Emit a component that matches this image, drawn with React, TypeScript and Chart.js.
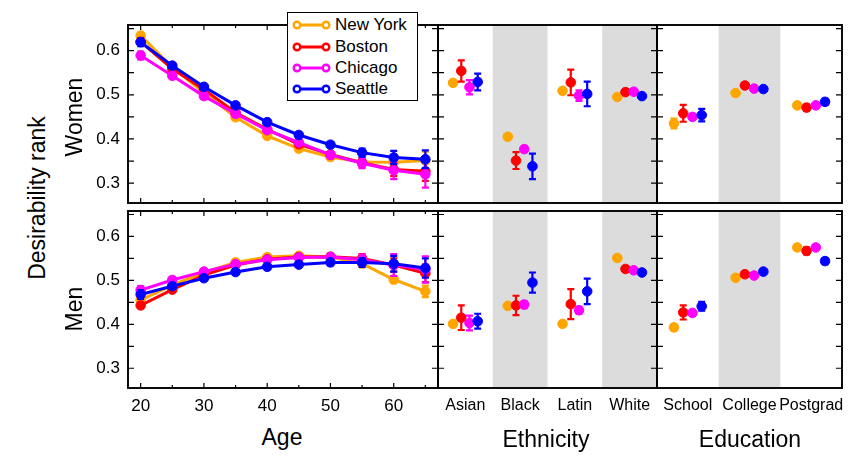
import React, { useEffect, useRef } from 'react'
import Chart from 'chart.js/auto'

Chart.defaults.font.family = '"Liberation Sans", Arial, Helvetica, sans-serif'
Chart.defaults.color = '#000'

const cities = ['New York', 'Boston', 'Chicago', 'Seattle']
const ages = [20, 25, 30, 35, 40, 45, 50, 55, 60, 65]
const ageLabelTicks = [20, 30, 40, 50, 60]
const ageMinorTicks = [25, 35, 45, 55, 65]
const ethnicities = ['Asian', 'Black', 'Latin', 'White']
const educations = ['School', 'College', 'Postgrad']
const rankTicks = [0.3, 0.4, 0.5, 0.6]
const rankMinorTicks = [0.3, 0.35, 0.4, 0.45, 0.5, 0.55, 0.6, 0.65]

// women by age
const nyWomenAge = [0.634, 0.562, 0.505, 0.449, 0.407, 0.378, 0.359, 0.348, 0.347, 0.351]
const bosWomenAge = [0.62, 0.559, 0.512, 0.46, 0.422, 0.388, 0.365, 0.346, 0.331, 0.327]
const chiWomenAge = [0.589, 0.543, 0.497, 0.457, 0.42, 0.392, 0.364, 0.345, 0.329, 0.32]
const seaWomenAge = [0.619, 0.566, 0.518, 0.476, 0.438, 0.409, 0.387, 0.369, 0.358, 0.354]
const nyWomenAgeErr = [0.007, 0.005, 0.004, 0.004, 0.005, 0.006, 0.007, 0.009, 0.012, 0.02]
const bosWomenAgeErr = [0.008, 0.005, 0.005, 0.005, 0.005, 0.006, 0.007, 0.01, 0.015, 0.022]
const chiWomenAgeErr = [0.009, 0.006, 0.005, 0.005, 0.005, 0.006, 0.008, 0.011, 0.02, 0.03]
const seaWomenAgeErr = [0.009, 0.005, 0.004, 0.004, 0.005, 0.005, 0.006, 0.009, 0.015, 0.02]

// men by age
const nyMenAge = [0.455, 0.489, 0.518, 0.541, 0.553, 0.556, 0.553, 0.538, 0.502, 0.475]
const bosMenAge = [0.443, 0.479, 0.512, 0.535, 0.548, 0.553, 0.554, 0.55, 0.535, 0.516]
const chiMenAge = [0.478, 0.501, 0.52, 0.537, 0.547, 0.552, 0.553, 0.547, 0.535, 0.525]
const seaMenAge = [0.468, 0.487, 0.505, 0.519, 0.531, 0.536, 0.541, 0.541, 0.538, 0.528]
const nyMenAgeErr = [0.006, 0.005, 0.004, 0.004, 0.004, 0.005, 0.006, 0.008, 0.008, 0.013]
const bosMenAgeErr = [0.006, 0.005, 0.004, 0.004, 0.004, 0.005, 0.006, 0.01, 0.015, 0.02]
const chiMenAgeErr = [0.009, 0.006, 0.005, 0.004, 0.005, 0.006, 0.008, 0.012, 0.025, 0.03]
const seaMenAgeErr = [0.01, 0.006, 0.005, 0.004, 0.004, 0.005, 0.007, 0.01, 0.018, 0.022]

// ethnicity
const nyWomenEth = [0.527, 0.405, 0.509, 0.495]
const bosWomenEth = [0.554, 0.351, 0.528, 0.506]
const chiWomenEth = [0.517, 0.377, 0.498, 0.507]
const seaWomenEth = [0.529, 0.338, 0.502, 0.497]
const nyWomenEthErr = [0.004, 0.004, 0.004, 0.003]
const bosWomenEthErr = [0.024, 0.019, 0.029, 0.004]
const chiWomenEthErr = [0.016, 0.006, 0.012, 0.003]
const seaWomenEthErr = [0.019, 0.029, 0.028, 0.004]

const nyMenEth = [0.401, 0.442, 0.401, 0.551]
const bosMenEth = [0.415, 0.443, 0.446, 0.526]
const chiMenEth = [0.403, 0.445, 0.432, 0.523]
const seaMenEth = [0.407, 0.495, 0.475, 0.518]
const nyMenEthErr = [0.004, 0.004, 0.004, 0.004]
const bosMenEthErr = [0.028, 0.022, 0.034, 0.006]
const chiMenEthErr = [0.017, 0.008, 0.008, 0.004]
const seaMenEthErr = [0.017, 0.023, 0.029, 0.005]

// education
const nyWomenEdu = [0.435, 0.504, 0.476]
const bosWomenEdu = [0.458, 0.521, 0.471]
const chiWomenEdu = [0.45, 0.514, 0.476]
const seaWomenEdu = [0.454, 0.513, 0.484]
const nyWomenEduErr = [0.011, 0.004, 0.004]
const bosWomenEduErr = [0.019, 0.005, 0.007]
const chiWomenEduErr = [0.006, 0.004, 0.003]
const seaWomenEduErr = [0.014, 0.004, 0.007]

const nyMenEdu = [0.393, 0.506, 0.575]
const bosMenEdu = [0.427, 0.514, 0.567]
const chiMenEdu = [0.426, 0.511, 0.575]
const seaMenEdu = [0.441, 0.52, 0.544]
const nyMenEduErr = [0.007, 0.004, 0.004]
const bosMenEduErr = [0.016, 0.005, 0.008]
const chiMenEduErr = [0.006, 0.004, 0.004]
const seaMenEduErr = [0.01, 0.004, 0.007]

const colors = ['#ffa500', '#ff0000', '#ff00ff', '#0000ff']
const dodge = [-0.225, -0.075, 0.075, 0.225]
const Y_MIN = 0.255
const Y_MAX = 0.658
const FONT = '"Liberation Sans", Arial, Helvetica, sans-serif'

// error bars drawn right before each dataset, so points sit on top
const errorBars = {
    id: 'errorBars',
    beforeDatasetDraw(chart: any, args: any) {
        const ds = chart.data.datasets[args.index]
        if (!ds.errs) return
        const y = chart.scales.y
        const ctx = chart.ctx
        ctx.save()
        ctx.strokeStyle = ds.borderColor
        ctx.lineWidth = 2.2
        args.meta.data.forEach((pt: any, i: number) => {
            const v = ds.data[i].y
            const e = ds.errs[i]
            const t = y.getPixelForValue(v + e)
            const b = y.getPixelForValue(v - e)
            ctx.beginPath()
            ctx.moveTo(pt.x, t)
            ctx.lineTo(pt.x, b)
            ctx.moveTo(pt.x - 3.5, t)
            ctx.lineTo(pt.x + 3.5, t)
            ctx.moveTo(pt.x - 3.5, b)
            ctx.lineTo(pt.x + 3.5, b)
            ctx.stroke()
        })
        ctx.restore()
    },
}

function bandPlugin(shaded: number[]) {
    return {
        id: 'bands',
        beforeDatasetsDraw(chart: any) {
            const { ctx, chartArea: a, scales } = chart
            ctx.save()
            ctx.fillStyle = '#dcdcdc'
            shaded.forEach((i) => {
                const l = scales.x.getPixelForValue(i - 0.5)
                const r = scales.x.getPixelForValue(i + 0.5)
                ctx.fillRect(l, a.top, r - l, a.bottom - a.top)
            })
            ctx.restore()
        },
    }
}

function framePlugin(yTicks: number[], xMajor: number[], xMinor: number[]) {
    return {
        id: 'frame',
        afterDraw(chart: any) {
            const { ctx, chartArea: a, scales } = chart
            ctx.save()
            ctx.strokeStyle = '#000'
            ctx.lineWidth = 1.2
            ctx.beginPath()
            yTicks.forEach((v) => {
                const py = scales.y.getPixelForValue(v)
                if (py < a.top || py > a.bottom) return
                ctx.moveTo(a.left, py)
                ctx.lineTo(a.left + 6, py)
                ctx.moveTo(a.right - 6, py)
                ctx.lineTo(a.right, py)
            })
            const xt = (vals: number[], len: number) =>
                vals.forEach((v) => {
                    const px = scales.x.getPixelForValue(v)
                    ctx.moveTo(px, a.bottom)
                    ctx.lineTo(px, a.bottom - len)
                    ctx.moveTo(px, a.top)
                    ctx.lineTo(px, a.top + len)
                })
            xt(xMajor, 5)
            xt(xMinor, 3)
            ctx.stroke()
            ctx.lineWidth = 1.9
            ctx.strokeRect(a.left, a.top, a.right - a.left, a.bottom - a.top)
            ctx.restore()
        },
    }
}

type PanelProps = {
    box: number[] // left, top, width, height of the plot frame
    pad: number[] // left, top, right, bottom room around it
    series: number[][]
    errs: number[][]
    categories?: string[]
    shaded?: number[]
    xLabels: boolean
    yLabels: boolean
}

function Panel({ box, pad, series, errs, categories, shaded, xLabels, yLabels }: PanelProps) {
    const ref = useRef<HTMLCanvasElement | null>(null)
    const [bl, bt, bw, bh] = box
    const [pl, pt, pr, pb] = pad
    const w = pl + bw + pr
    const h = pt + bh + pb

    useEffect(() => {
        if (!ref.current) return
        const isAge = !categories
        const datasets = series.map((vals, k) => ({
            label: cities[k],
            data: vals.map((v, i) => ({ x: isAge ? ages[i] : i + dodge[k], y: v })),
            errs: errs[k],
            borderColor: colors[k],
            backgroundColor: colors[k],
            pointBackgroundColor: colors[k],
            pointBorderColor: colors[k],
            pointRadius: 4.8,
            pointBorderWidth: 1,
            borderWidth: 3,
            showLine: isAge,
            order: 3 - k,
        }))
        const xTickVals = isAge ? ageLabelTicks : (categories as string[]).map((_, i) => i)
        const chart = new Chart(ref.current, {
            type: 'line',
            data: { datasets },
            options: {
                animation: false,
                responsive: false,
                events: [],
                layout: {
                    autoPadding: false,
                    padding: { left: yLabels ? 0 : pl, top: pt, right: pr, bottom: xLabels ? 0 : pb },
                },
                plugins: { legend: { display: false }, tooltip: { enabled: false } },
                scales: {
                    x: {
                        type: 'linear',
                        min: isAge ? 18 : -0.5,
                        max: isAge ? 67 : (categories as string[]).length - 0.5,
                        display: xLabels,
                        grid: { display: false, drawTicks: false },
                        border: { display: false },
                        ticks: {
                            font: { size: isAge ? 17 : 16 },
                            padding: 8,
                            maxRotation: 0,
                            autoSkip: false,
                            callback: (v: any) => (isAge ? String(v) : (categories as string[])[v]),
                        },
                        afterBuildTicks: (s: any) => {
                            s.ticks = xTickVals.map((v) => ({ value: v }))
                        },
                        afterFit: (s: any) => {
                            s.height = xLabels ? pb : 0
                            s.paddingLeft = 0
                            s.paddingRight = 0
                        },
                    },
                    y: {
                        type: 'linear',
                        min: Y_MIN,
                        max: Y_MAX,
                        display: yLabels,
                        grid: { display: false, drawTicks: false },
                        border: { display: false },
                        ticks: {
                            font: { size: 17 },
                            padding: 8,
                            callback: (v: any) => Number(v).toFixed(1),
                        },
                        afterBuildTicks: (s: any) => {
                            s.ticks = rankTicks.map((v) => ({ value: v }))
                        },
                        afterFit: (s: any) => {
                            s.width = yLabels ? pl : 0
                            s.paddingTop = 0
                            s.paddingBottom = 0
                        },
                    },
                },
            },
            plugins: [
                bandPlugin(shaded || []),
                errorBars,
                framePlugin(rankMinorTicks, isAge ? ageLabelTicks : [], isAge ? ageMinorTicks : []),
            ],
        } as any)
        return () => chart.destroy()
    }, [])

    return (
        <canvas
            ref={ref}
            width={w}
            height={h}
            style={{ position: 'absolute', left: bl - pl, top: bt - pt, width: w, height: h }}
        />
    )
}

const textStyle: React.CSSProperties = {
    position: 'absolute',
    fontFamily: FONT,
    fontSize: 23,
    lineHeight: 1,
    whiteSpace: 'nowrap',
    color: '#000',
}

function Label({ x, y, text, rotate }: { x: number; y: number; text: string; rotate?: boolean }) {
    return (
        <div
            style={{
                ...textStyle,
                left: x,
                top: y,
                transform: `translate(-50%, -50%)${rotate ? ' rotate(-90deg)' : ''}`,
            }}
        >
            {text}
        </div>
    )
}

function Legend() {
    return (
        <div
            style={{
                position: 'absolute',
                left: 287,
                top: 12,
                width: 131,
                height: 89,
                boxSizing: 'border-box',
                border: '1px solid #000',
                background: '#fff',
                zIndex: 5,
            }}
        >
            {cities.map((c, k) => (
                <div key={c} style={{ position: 'absolute', left: 0, top: 12.3 + k * 21.3 - 10, height: 20, width: 130 }}>
                    <svg width={44} height={20} style={{ position: 'absolute', left: 3, top: 0 }}>
                        <line x1={6} y1={10} x2={35} y2={10} stroke={colors[k]} strokeWidth={3} />
                        <circle cx={6} cy={10} r={3.3} fill="#fff" stroke={colors[k]} strokeWidth={2.4} />
                        <circle cx={35} cy={10} r={3.3} fill="#fff" stroke={colors[k]} strokeWidth={2.4} />
                    </svg>
                    <div
                        style={{
                            position: 'absolute',
                            left: 47,
                            top: 0,
                            lineHeight: '20px',
                            fontSize: 17,
                            fontFamily: FONT,
                            whiteSpace: 'nowrap',
                        }}
                    >
                        {c}
                    </div>
                </div>
            ))}
        </div>
    )
}

export default function App() {
    return (
        <div style={{ position: 'fixed', left: 0, top: 0, width: 853, height: 456, background: '#fff', overflow: 'hidden' }}>
            <Panel
                box={[128, 25, 310, 178]}
                pad={[45, 2, 2, 2]}
                series={[nyWomenAge, bosWomenAge, chiWomenAge, seaWomenAge]}
                errs={[nyWomenAgeErr, bosWomenAgeErr, chiWomenAgeErr, seaWomenAgeErr]}
                xLabels={false}
                yLabels={true}
            />
            <Panel
                box={[128, 211, 310, 177]}
                pad={[45, 2, 2, 30]}
                series={[nyMenAge, bosMenAge, chiMenAge, seaMenAge]}
                errs={[nyMenAgeErr, bosMenAgeErr, chiMenAgeErr, seaMenAgeErr]}
                xLabels={true}
                yLabels={true}
            />
            <Panel
                box={[438, 25, 219, 178]}
                pad={[2, 2, 2, 2]}
                series={[nyWomenEth, bosWomenEth, chiWomenEth, seaWomenEth]}
                errs={[nyWomenEthErr, bosWomenEthErr, chiWomenEthErr, seaWomenEthErr]}
                categories={ethnicities}
                shaded={[1, 3]}
                xLabels={false}
                yLabels={false}
            />
            <Panel
                box={[438, 211, 219, 177]}
                pad={[2, 2, 2, 30]}
                series={[nyMenEth, bosMenEth, chiMenEth, seaMenEth]}
                errs={[nyMenEthErr, bosMenEthErr, chiMenEthErr, seaMenEthErr]}
                categories={ethnicities}
                shaded={[1, 3]}
                xLabels={true}
                yLabels={false}
            />
            <Panel
                box={[657, 25, 185, 178]}
                pad={[2, 2, 8, 2]}
                series={[nyWomenEdu, bosWomenEdu, chiWomenEdu, seaWomenEdu]}
                errs={[nyWomenEduErr, bosWomenEduErr, chiWomenEduErr, seaWomenEduErr]}
                categories={educations}
                shaded={[1]}
                xLabels={false}
                yLabels={false}
            />
            <Panel
                box={[657, 211, 185, 177]}
                pad={[2, 2, 8, 30]}
                series={[nyMenEdu, bosMenEdu, chiMenEdu, seaMenEdu]}
                errs={[nyMenEduErr, bosMenEduErr, chiMenEduErr, seaMenEduErr]}
                categories={educations}
                shaded={[1]}
                xLabels={true}
                yLabels={false}
            />
            <Legend />
            <Label x={37} y={198} text="Desirability rank" rotate />
            <Label x={74} y={117} text="Women" rotate />
            <Label x={74} y={309} text="Men" rotate />
            <Label x={282} y={437} text="Age" />
            <Label x={546} y={439} text="Ethnicity" />
            <Label x={750} y={439} text="Education" />
        </div>
    )
}
